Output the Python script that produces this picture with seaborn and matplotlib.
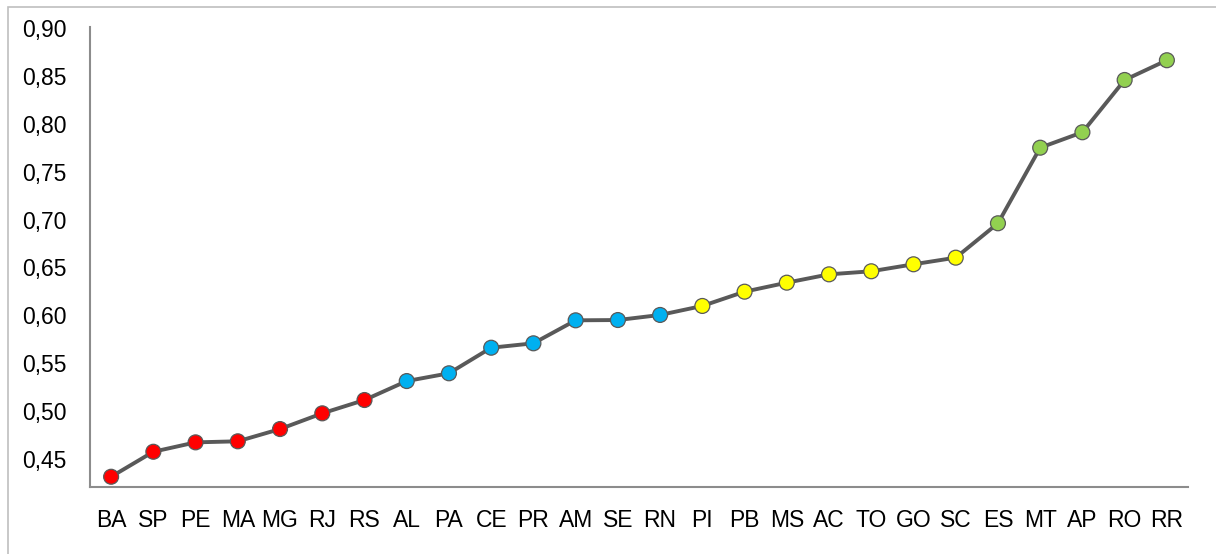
import matplotlib
matplotlib.use("Agg")
import matplotlib.pyplot as plt
import seaborn as sns
import pandas as pd
from matplotlib.patches import Rectangle

states = ["BA", "SP", "PE", "MA", "MG", "RJ", "RS", "AL", "PA", "CE", "PR", "AM", "SE",
          "RN", "PI", "PB", "MS", "AC", "TO", "GO", "SC", "ES", "MT", "AP", "RO", "RR"]
values = [0.4315, 0.4576, 0.4674, 0.4685, 0.4813, 0.4977, 0.5116, 0.5314, 0.5395, 0.5662,
          0.5708, 0.5948, 0.5951, 0.6004, 0.6098, 0.6247, 0.6341, 0.6428, 0.6460, 0.6533,
          0.6602, 0.6961, 0.7750, 0.7911, 0.8457, 0.8663]
groups = ["red"] * 7 + ["blue"] * 7 + ["yellow"] * 7 + ["green"] * 5
group_colors = {"red": "#FF0000", "blue": "#00B0F0", "yellow": "#FFFF00", "green": "#92D050"}
ytick_values = [0.45, 0.50, 0.55, 0.60, 0.65, 0.70, 0.75, 0.80, 0.85, 0.90]
ytick_labels = ["0,45", "0,50", "0,55", "0,60", "0,65", "0,70", "0,75", "0,80", "0,85", "0,90"]

df = pd.DataFrame({"state": states, "value": values, "group": groups})
df["pos"] = range(len(df))

sns.set_theme(style="white")
plt.rcParams["font.family"] = ["Liberation Sans", "DejaVu Sans"]

fig = plt.figure(figsize=(12.16, 5.54), dpi=100)
ax = fig.add_axes([90 / 1216, 1 - 487 / 554, (1188 - 90) / 1216, (487 - 27) / 554])

sns.lineplot(data=df, x="pos", y="value", ax=ax, color="#595959", linewidth=2.8,
             sort=False, zorder=2)
sns.scatterplot(data=df, x="pos", y="value", hue="group", palette=group_colors, ax=ax,
                s=115, edgecolor="#595959", linewidth=0.9, legend=False, zorder=3)

ax.set_xlim(-0.5, len(states) - 0.5)
ax.set_ylim(0.4208, 0.901)
ax.set_xticks(df["pos"])
ax.set_xticklabels(states)
ax.set_yticks(ytick_values)
ax.set_yticklabels(ytick_labels)
ax.set_xlabel("")
ax.set_ylabel("")
ax.tick_params(axis="both", length=0, labelsize=16.5, colors="black")
ax.tick_params(axis="y", pad=17)
ax.tick_params(axis="x", pad=16)
for side in ["top", "right"]:
    ax.spines[side].set_visible(False)
for side in ["left", "bottom"]:
    ax.spines[side].set_color("#8C8C8C")
    ax.spines[side].set_linewidth(1.5)

fig.patches.append(Rectangle((8 / 1216, -0.05), 1.1, 1 - 7 / 554 + 0.05,
                             transform=fig.transFigure, fill=False,
                             edgecolor="#BFBFBF", linewidth=1.2))

fig.savefig("out.png", dpi=100)
